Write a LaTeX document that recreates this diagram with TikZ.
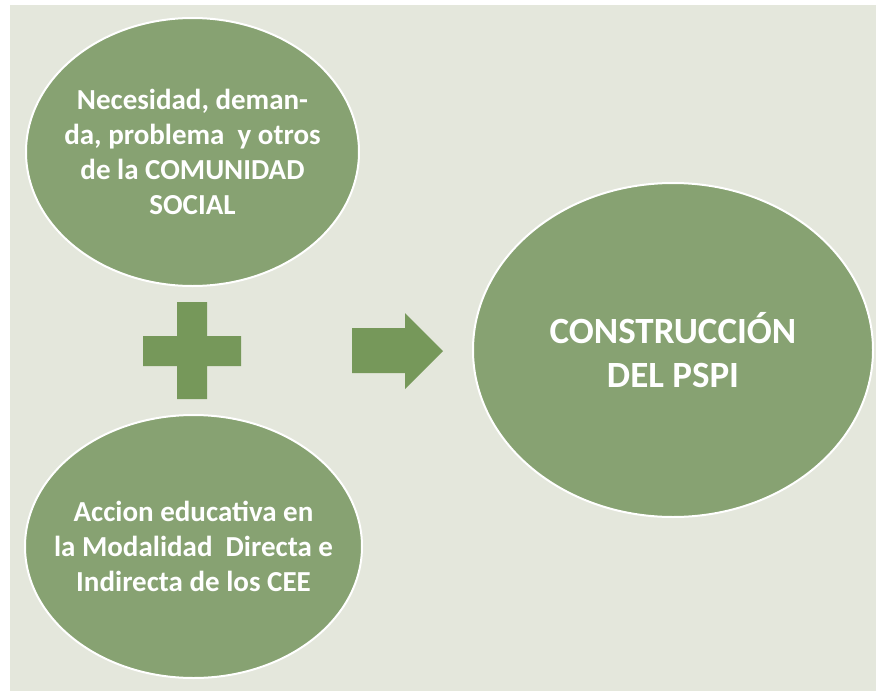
\documentclass[tikz,border=0pt]{standalone}
\usepackage{fontspec}
\setmainfont{Carlito}
\usetikzlibrary{shapes.geometric}
\definecolor{bgpanel}{HTML}{E4E7DC}
\definecolor{blobfill}{HTML}{87A272}
\definecolor{signfill}{HTML}{76985A}
\begin{document}
\begin{tikzpicture}[x=1pt,y=-1pt,
    blob/.style={ellipse,fill=blobfill,draw=white,line width=2pt,inner sep=0pt},
    blobtext/.style={text=white,align=center,font=\bfseries\fontsize{29}{35}\selectfont},
    bigtext/.style={text=white,align=center,font=\bfseries\fontsize{37}{44}\selectfont}]
 % page and panel
 \fill[white] (0,0) rectangle (876,691);
 \fill[bgpanel] (10,5) rectangle (876,691);
 % the three ellipses
 \node[blob,minimum width=333pt,minimum height=268pt] (need) at (192.5,152) {};
 \node[blob,minimum width=337pt,minimum height=263pt] (action) at (193.5,546.5) {};
 \node[blob,minimum width=400pt,minimum height=334pt] (build) at (673,350) {};
 \node[blobtext] at (need) {Necesidad, deman-\\da, problema~ y otros\\de la COMUNIDAD\\SOCIAL};
 \node[blobtext] at (action) {Accion educativa en\\la Modalidad~ Directa e\\Indirecta de los CEE};
 \node[bigtext] at (build) {CONSTRUCCIÓN\\DEL PSPI};
 % plus sign
 \fill[signfill] (177,302) -- (207,302) -- (207,336) -- (241,336) -- (241,366)
    -- (207,366) -- (207,399) -- (177,399) -- (177,366) -- (143,366)
    -- (143,336) -- (177,336) -- cycle;
 % arrow
 \fill[signfill] (352,328) -- (405,328) -- (405,313) -- (443,351)
    -- (405,389) -- (405,373) -- (352,373) -- cycle;
\end{tikzpicture}
\end{document}
